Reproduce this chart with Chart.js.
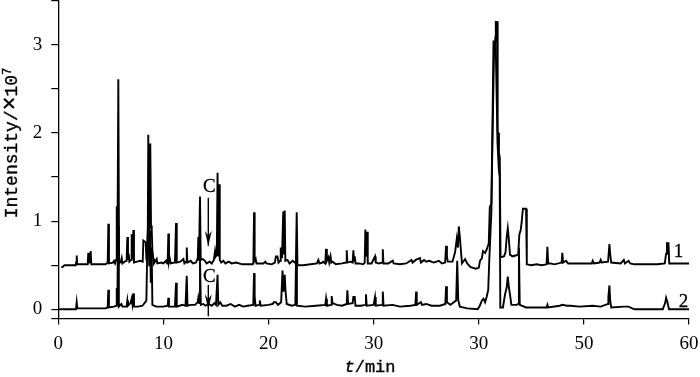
<!DOCTYPE html>
<html>
<head>
<meta charset="utf-8">
<script src="https://cdn.jsdelivr.net/npm/chart.js@4.4.1/dist/chart.umd.min.js"></script>
<style>
html, body { margin: 0; padding: 0; background: #fff; }
</style>
</head>
<body>
<canvas id="myChart" width="700" height="377"></canvas>
<script>
// ejes
var xTickValues = [0, 10, 20, 30, 40, 50, 60];
var xTickLabels = ['0', '10', '20', '30', '30', '50', '60'];   // asi viene en la figura original
var yMin = -0.105, yMax = 3.51;
var yTickValues = [yMin, 0, 0.5, 1, 1.5, 2, 2.5, 3, 3.5];

// cromatograma 1 (desplazado +0.5) : [t(min), intensidad x10^7]
var trace1 = [
    [0.3, 0.47], [0.6, 0.5], [1.65, 0.5], [1.7, 0.53], [1.75, 0.61], [1.8, 0.51], [2.8, 0.51], [2.85, 0.64],
    [2.92, 0.53], [3.03, 0.53], [3.08, 0.66], [3.14, 0.51], [4.5, 0.51], [4.7, 0.53], [4.76, 0.97], [4.82, 0.52],
    [5.2, 0.53], [5.3, 0.55], [5.4, 0.52], [5.5, 0.56], [5.56, 1.17], [5.62, 0.55], [5.71, 2.61], [5.78, 0.52],
    [5.95, 0.54], [6.03, 0.58], [6.1, 0.52], [6.3, 0.54], [6.5, 0.55], [6.57, 0.82], [6.63, 0.56], [6.7, 0.63],
    [6.76, 0.54], [6.93, 0.56], [6.98, 0.85], [7.04, 0.57], [7.14, 0.9], [7.2, 0.53], [7.5, 0.54], [7.8, 0.55],
    [8.03, 0.54], [8.09, 0.78], [8.31, 0.76], [8.38, 0.58], [8.5, 0.6], [8.56, 1.98], [8.64, 0.7], [8.75, 1.88],
    [8.82, 0.95], [8.89, 0.9], [8.95, 0.67], [9.03, 0.58], [9.1, 0.52], [9.36, 0.57], [9.42, 0.52], [9.8, 0.53],
    [10.0, 0.52], [10.25, 0.55], [10.35, 0.52], [10.41, 0.56], [10.47, 0.86], [10.53, 0.54], [10.6, 0.58], [10.7, 0.52],
    [11.1, 0.53], [11.2, 0.98], [11.27, 0.53], [11.6, 0.54], [11.9, 0.57], [12.0, 0.52], [12.16, 0.54], [12.22, 0.7],
    [12.28, 0.53], [12.6, 0.55], [12.8, 0.52], [13.1, 0.53], [13.27, 0.58], [13.32, 0.82], [13.38, 0.55], [13.48, 1.28],
    [13.55, 0.56], [13.75, 0.57], [13.95, 0.55], [14.1, 0.52], [14.4, 0.54], [14.6, 0.52], [14.8, 0.56], [14.91, 0.66],
    [14.98, 0.6], [15.08, 0.62], [15.15, 1.55], [15.22, 0.6], [15.3, 1.42], [15.36, 0.56], [15.5, 0.53], [15.7, 0.55],
    [15.9, 0.52], [16.2, 0.54], [16.5, 0.52], [16.9, 0.53], [17.5, 0.51], [18.5, 0.51], [18.56, 0.53], [18.62, 1.1],
    [18.68, 0.55], [18.78, 0.57], [18.85, 0.52], [19.5, 0.52], [19.7, 0.54], [19.8, 0.52], [20.3, 0.51], [20.6, 0.53],
    [20.7, 0.6], [20.85, 0.6], [20.95, 0.53], [21.1, 0.55], [21.16, 0.7], [21.28, 0.58], [21.4, 1.11], [21.47, 0.62],
    [21.54, 1.12], [21.6, 0.55], [21.8, 0.56], [22.0, 0.52], [22.3, 0.55], [22.6, 0.52], [22.68, 1.1], [22.75, 0.5],
    [23.3, 0.5], [24.0, 0.51], [24.6, 0.52], [24.74, 0.56], [24.85, 0.52], [25.1, 0.53], [25.2, 0.54], [25.4, 0.52],
    [25.47, 0.685], [25.55, 0.55], [25.7, 0.59], [25.78, 0.53], [25.9, 0.6], [25.98, 0.53], [26.1, 0.54], [26.4, 0.51],
    [27.0, 0.52], [27.38, 0.53], [27.44, 0.67], [27.5, 0.53], [27.8, 0.54], [28.0, 0.53], [28.07, 0.67], [28.14, 0.55],
    [28.2, 0.6], [28.28, 0.52], [28.6, 0.52], [29.0, 0.51], [29.15, 0.53], [29.21, 0.905], [29.3, 0.6], [29.37, 0.88],
    [29.44, 0.52], [29.8, 0.52], [30.13, 0.6], [30.2, 0.53], [30.5, 0.52], [30.81, 0.53], [30.87, 0.68], [30.93, 0.52],
    [31.4, 0.52], [31.82, 0.55], [31.9, 0.52], [32.5, 0.51], [33.1, 0.52], [33.6, 0.56], [33.7, 0.53], [34.0, 0.56],
    [34.4, 0.58], [34.5, 0.53], [34.8, 0.56], [35.0, 0.54], [35.3, 0.55], [35.7, 0.53], [36.2, 0.55], [36.5, 0.52],
    [36.8, 0.53], [36.89, 0.72], [36.97, 0.6], [37.05, 0.54], [37.5, 0.54], [37.75, 0.65], [37.91, 0.8], [38.02, 0.7],
    [38.1, 0.94], [38.2, 0.82], [38.4, 0.52], [38.7, 0.57], [38.9, 0.52], [39.2, 0.48], [39.7, 0.46], [40.0, 0.47],
    [40.12, 0.55], [40.3, 0.58], [40.4, 0.66], [40.6, 0.64], [40.8, 0.69], [40.95, 0.75], [41.05, 1.16], [41.2, 1.2],
    [41.3, 2.05], [41.4, 3.04], [41.55, 3.04], [41.62, 3.26], [41.77, 3.26], [41.8, 2.01], [41.87, 2.0], [41.92, 1.77],
    [42.0, 1.72], [42.07, 0.59], [42.4, 0.6], [42.55, 0.65], [42.66, 0.82], [42.76, 0.92], [42.86, 0.8], [42.97, 0.62],
    [43.2, 0.6], [43.5, 0.61], [43.75, 0.62], [43.86, 0.85], [43.99, 0.9], [44.08, 0.99], [44.2, 1.14], [44.5, 1.14],
    [44.57, 0.51], [45.0, 0.5], [45.5, 0.51], [46.0, 0.5], [46.45, 0.51], [46.53, 0.71], [46.6, 0.52], [46.8, 0.52],
    [47.2, 0.51], [47.88, 0.53], [47.95, 0.64], [48.02, 0.53], [48.3, 0.55], [48.5, 0.52], [50.75, 0.52], [50.84, 0.55],
    [50.95, 0.52], [51.5, 0.53], [51.6, 0.56], [51.7, 0.53], [52.3, 0.54], [52.43, 0.74], [52.5, 0.63], [52.6, 0.53],
    [53.5, 0.52], [53.8, 0.56], [53.9, 0.52], [54.25, 0.55], [54.4, 0.52], [54.8, 0.51], [57.0, 0.51], [57.7, 0.52],
    [57.82, 0.63], [57.9, 0.75], [58.05, 0.75], [58.12, 0.52], [60.0, 0.52]
];

// cromatograma 2
var trace2 = [
    [0.0, 0.0], [1.68, 0.0], [1.75, 0.08], [1.81, 0.01], [3.0, 0.01], [4.5, 0.01], [4.7, 0.02], [4.76, 0.22],
    [4.82, 0.02], [5.3, 0.03], [5.5, 0.04], [5.56, 0.24], [5.62, 0.05], [5.68, 0.95], [5.76, 0.03], [6.0, 0.06],
    [6.1, 0.03], [6.5, 0.03], [6.57, 0.1], [6.63, 0.04], [6.87, 0.07], [6.98, 0.12], [7.05, 0.06], [7.14, 0.18],
    [7.2, 0.03], [7.6, 0.03], [8.0, 0.04], [8.2, 0.07], [8.38, 0.1], [8.48, 0.8], [8.56, 1.0], [8.65, 0.5],
    [8.72, 0.9], [8.8, 0.3], [8.88, 0.7], [8.95, 0.05], [9.3, 0.03], [10.0, 0.03], [10.41, 0.04], [10.47, 0.13],
    [10.53, 0.03], [11.1, 0.03], [11.2, 0.3], [11.27, 0.03], [11.8, 0.05], [12.1, 0.04], [12.22, 0.38], [12.29, 0.04],
    [12.6, 0.05], [13.0, 0.05], [13.26, 0.08], [13.32, 0.13], [13.4, 0.07], [13.48, 0.6], [13.56, 0.05], [13.8, 0.06],
    [14.0, 0.04], [14.3, 0.06], [14.6, 0.04], [14.85, 0.07], [15.0, 0.05], [15.15, 0.39], [15.22, 0.05], [15.4, 0.08],
    [15.6, 0.04], [16.0, 0.04], [16.4, 0.06], [16.8, 0.03], [17.2, 0.05], [17.6, 0.03], [18.0, 0.04], [18.55, 0.05],
    [18.62, 0.41], [18.68, 0.15], [18.76, 0.04], [19.1, 0.05], [19.17, 0.1], [19.25, 0.04], [20.0, 0.05], [20.4, 0.06],
    [20.5, 0.08], [20.7, 0.08], [20.9, 0.05], [21.2, 0.08], [21.33, 0.44], [21.42, 0.2], [21.54, 0.39], [21.62, 0.2],
    [21.73, 0.06], [22.2, 0.04], [22.55, 0.05], [22.62, 0.6], [22.7, 0.04], [23.5, 0.03], [24.5, 0.04], [25.4, 0.05],
    [25.47, 0.12], [25.55, 0.04], [25.95, 0.05], [26.01, 0.15], [26.08, 0.07], [26.5, 0.05], [27.0, 0.04], [27.44, 0.06],
    [27.5, 0.215], [27.57, 0.06], [28.0, 0.07], [28.07, 0.14], [28.2, 0.14], [28.27, 0.04], [28.8, 0.04], [29.2, 0.05],
    [29.27, 0.17], [29.34, 0.04], [30.0, 0.05], [30.13, 0.14], [30.2, 0.04], [30.8, 0.05], [30.87, 0.2], [30.94, 0.04],
    [31.8, 0.05], [32.5, 0.03], [33.5, 0.04], [33.97, 0.05], [34.04, 0.2], [34.1, 0.05], [34.5, 0.08], [34.6, 0.05],
    [35.0, 0.06], [35.5, 0.04], [36.3, 0.04], [36.82, 0.06], [36.89, 0.26], [36.97, 0.08], [37.3, 0.05], [37.85, 0.1],
    [37.95, 0.55], [38.05, 0.1], [38.2, 0.03], [38.9, 0.01], [39.9, 0.0], [40.1, 0.04], [40.3, 0.1], [40.45, 0.12],
    [40.6, 0.08], [40.75, 0.14], [40.9, 0.22], [41.0, 0.56], [41.2, 1.1], [41.3, 1.9], [41.45, 2.9], [41.6, 3.1],
    [41.78, 1.9], [41.9, 1.6], [41.99, 1.5], [42.05, 0.02], [42.3, 0.02], [42.5, 0.17], [42.66, 0.25], [42.76, 0.37],
    [42.86, 0.25], [42.97, 0.17], [43.1, 0.05], [43.6, 0.05], [43.75, 0.06], [43.82, 0.7], [43.9, 0.05], [44.5, 0.02],
    [45.5, 0.02], [46.45, 0.02], [46.53, 0.05], [46.6, 0.02], [47.7, 0.04], [47.95, 0.05], [48.4, 0.04], [48.7, 0.04],
    [49.6, 0.03], [50.84, 0.04], [51.6, 0.03], [52.3, 0.06], [52.33, 0.14], [52.43, 0.27], [52.5, 0.1], [52.6, 0.02],
    [53.8, 0.03], [54.25, 0.03], [54.8, 0.0], [57.5, 0.0], [57.73, 0.07], [57.82, 0.13], [57.95, 0.08], [58.1, 0.0],
    [60.0, 0.0]
];

// flechas "C" (t, inicio, punta, fin del trazo, posicion de la letra)
var markTime = [14.27, 14.27];
var markStart = [1.265, 0.276];
var markTip = [0.72, 0.0];
var markEnd = [0.72, -0.08];
var markLabelV = [1.39, 0.37];

// etiquetas de las curvas
var curveNames = ['1', '2'];
var curveNameT = [59.0, 59.47];
var curveNameV = [0.655, 0.086];

function toPoints(arr) {
    return arr.map(function (p) { return { x: p[0], y: p[1] }; });
}

// texto con un poco mas de cuerpo, como el original
function boldText(ctx, txt, x, y) {
    ctx.fillText(txt, x, y);
    ctx.strokeText(txt, x, y);
}

var extraText = {
    id: 'extraText',
    afterDatasetsDraw: function (chart) {
        var ctx = chart.ctx;
        var xs = chart.scales.x, ys = chart.scales.y;
        ctx.save();
        ctx.fillStyle = '#000';
        ctx.strokeStyle = '#000';
        // flechas C
        for (var i = 0; i < markTime.length; i++) {
            var px = xs.getPixelForValue(markTime[i]);
            var y0 = ys.getPixelForValue(markStart[i]);
            var y1 = ys.getPixelForValue(markEnd[i]);
            var yt = ys.getPixelForValue(markTip[i]);
            ctx.lineWidth = 1.4;
            ctx.beginPath();
            ctx.moveTo(px, y0);
            ctx.lineTo(px, y1);
            ctx.stroke();
            ctx.beginPath();
            ctx.moveTo(px, yt);
            ctx.lineTo(px - 3.5, yt - 15);
            ctx.lineTo(px, yt - 10);
            ctx.lineTo(px + 3.5, yt - 15);
            ctx.closePath();
            ctx.fill();
            ctx.font = '19px "Liberation Serif"';
            ctx.textAlign = 'center';
            ctx.textBaseline = 'middle';
            ctx.lineWidth = 0.3;
            boldText(ctx, 'C', px + 1, ys.getPixelForValue(markLabelV[i]));
        }
        // 1 y 2
        ctx.font = '19px "Liberation Serif"';
        for (var j = 0; j < curveNames.length; j++) {
            boldText(ctx, curveNames[j], xs.getPixelForValue(curveNameT[j]), ys.getPixelForValue(curveNameV[j]));
        }
        ctx.restore();
    },
    afterDraw: function (chart) {
        var ctx = chart.ctx;
        ctx.save();
        ctx.fillStyle = '#000';
        ctx.strokeStyle = '#000';
        ctx.lineWidth = 0.35;
        // titulo eje x
        ctx.textBaseline = 'alphabetic';
        ctx.textAlign = 'left';
        ctx.font = 'italic 17px "Liberation Mono"';
        var wt = ctx.measureText('t').width;
        ctx.font = '17px "Liberation Mono"';
        var wr = ctx.measureText('/min').width;
        var x0 = 370 - (wt + wr) / 2;
        ctx.font = 'italic 17px "Liberation Mono"';
        boldText(ctx, 't', x0, 372);
        ctx.font = '17px "Liberation Mono"';
        boldText(ctx, '/min', x0 + wt, 372);
        // titulo eje y
        ctx.translate(16.5, 143);
        ctx.rotate(-Math.PI / 2);
        var parts = [
            ['Intensity/', '18px "Liberation Mono"', 0],
            ['\u00d7', '23px "Liberation Mono"', 0],
            ['10', '18px "Liberation Mono"', 0],
            ['7', '12px "Liberation Mono"', -6]
        ];
        var total = 0;
        parts.forEach(function (p) { ctx.font = p[1]; p.push(ctx.measureText(p[0]).width); total += p[3]; });
        var s = -total / 2;
        parts.forEach(function (p) {
            ctx.font = p[1];
            boldText(ctx, p[0], s, p[2]);
            s += p[3];
        });
        ctx.restore();
    }
};

var tickFont = { family: '"Liberation Serif"', size: 19 };

var myChart = new Chart(document.getElementById('myChart'), {
    type: 'line',
    data: {
        datasets: [{
            label: '1',
            data: toPoints(trace1),
            borderColor: '#000',
            borderWidth: 1.9,
            pointRadius: 0,
            fill: false,
            tension: 0
        },
        {
            label: '2',
            data: toPoints(trace2),
            borderColor: '#000',
            borderWidth: 1.9,
            pointRadius: 0,
            fill: false,
            tension: 0
        }]
    },
    options: {
        responsive: false,
        animation: false,
        devicePixelRatio: 1,
        layout: { padding: { top: 0, right: 11, bottom: 0, left: 0 } },
        plugins: {
            legend: { display: false },
            tooltip: { enabled: false }
        },
        scales: {
            x: {
                type: 'linear',
                min: 0,
                max: 60,
                afterBuildTicks: function (s) { s.ticks = xTickValues.map(function (v) { return { value: v }; }); },
                afterFit: function (s) { s.height = 58.5; s.paddingLeft = 0; s.paddingRight = 0; },
                ticks: {
                    callback: function (v, i) { return xTickLabels[i]; },
                    font: tickFont,
                    color: '#000',
                    padding: 8,
                    maxRotation: 0,
                    autoSkip: false
                },
                grid: { drawOnChartArea: false, color: '#000', tickLength: 6, lineWidth: 1.2 },
                border: { color: '#000', width: 1.3 }
            },
            y: {
                type: 'linear',
                min: yMin,
                max: yMax,
                afterBuildTicks: function (s) { s.ticks = yTickValues.map(function (v) { return { value: v }; }); },
                afterFit: function (s) { s.width = 58.3; s.paddingTop = 0; s.paddingBottom = 0; },
                ticks: {
                    callback: function (v) { return Number.isInteger(v) ? String(v) : ''; },
                    font: tickFont,
                    color: '#000',
                    padding: 9
                },
                grid: { drawOnChartArea: false, color: '#000', tickLength: 7, lineWidth: 1.2 },
                border: { color: '#000', width: 1.3 }
            }
        }
    },
    plugins: [extraText]
});
</script>
</body>
</html>
